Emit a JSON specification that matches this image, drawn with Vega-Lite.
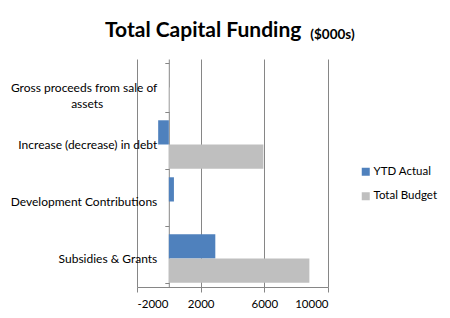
{
  "$schema": "https://vega.github.io/schema/vega-lite/v6.json",
  "width": 191,
  "height": 228,
  "autosize": {"type": "none"},
  "padding": {"left": 137, "top": 59, "right": 122, "bottom": 31},
  "background": "white",
  "title": {
    "text": "Total Capital Funding",
    "anchor": "start",
    "frame": "group",
    "dx": -32,
    "baseline": "alphabetic",
    "offset": -31,
    "font": "Lato",
    "fontSize": 21,
    "fontWeight": "bold",
    "color": "black"
  },
  "data": {
    "values": [
      {"category": "Gross proceeds from sale of assets", "series": "YTD Actual", "value": 0},
      {"category": "Gross proceeds from sale of assets", "series": "Total Budget", "value": 60},
      {"category": "Increase (decrease) in debt", "series": "YTD Actual", "value": -670},
      {"category": "Increase (decrease) in debt", "series": "Total Budget", "value": 5940},
      {"category": "Development Contributions", "series": "YTD Actual", "value": 320},
      {"category": "Development Contributions", "series": "Total Budget", "value": 0},
      {"category": "Subsidies & Grants", "series": "YTD Actual", "value": 2920},
      {"category": "Subsidies & Grants", "series": "Total Budget", "value": 8830}
    ]
  },
  "mark": {"type": "bar"},
  "encoding": {
    "y": {
      "field": "category",
      "type": "nominal",
      "sort": ["Gross proceeds from sale of assets", "Increase (decrease) in debt", "Development Contributions", "Subsidies & Grants"],
      "scale": {"paddingInner": 0.15, "paddingOuter": 0.075},
      "axis": {
        "title": "($000s)",
        "titleAngle": 0,
        "titleAlign": "left",
        "titleBaseline": "alphabetic",
        "titleX": 141,
        "titleY": -21,
        "titleFont": "Lato",
        "titleFontSize": 13.5,
        "titleFontWeight": "bold",
        "titleColor": "black",
        "offset": -31.8,
        "domainColor": "#868686",
        "tickColor": "#868686",
        "tickSize": 4,
        "tickBand": "extent",
        "labelPadding": 8,
        "labelFont": "Lato",
        "labelFontSize": 12,
        "labelColor": "black",
        "labelLineHeight": 16,
        "labelLimit": 200,
        "labelExpr": "datum.value == 'Gross proceeds from sale of assets' ? ['Gross proceeds from sale of', 'assets\u2800\u2800\u2800\u2800\u2800\u2800'] : datum.value",
        "grid": false
      }
    },
    "yOffset": {
      "field": "series",
      "type": "nominal",
      "scale": {"domain": ["YTD Actual", "Total Budget"], "paddingInner": 0, "paddingOuter": 0}
    },
    "x": {
      "field": "value",
      "type": "quantitative",
      "scale": {"domain": [-2000, 10000], "nice": false, "zero": false},
      "axis": {
        "title": null,
        "values": [-2000, 2000, 6000, 10000],
        "labelExpr": "'' + datum.value",
        "grid": true,
        "gridColor": "#868686",
        "domainColor": "#868686",
        "tickColor": "#868686",
        "tickSize": 5,
        "labelPadding": 6,
        "labelFont": "Lato",
        "labelFontSize": 11.5,
        "labelColor": "black"
      }
    },
    "color": {
      "field": "series",
      "type": "nominal",
      "scale": {"domain": ["YTD Actual", "Total Budget"], "range": ["#4F81BD", "#BFBFBF"]},
      "legend": {
        "title": null,
        "orient": "none",
        "legendX": 223,
        "legendY": 107,
        "symbolType": "square",
        "symbolSize": 64,
        "symbolStrokeWidth": 0,
        "labelFont": "Lato",
        "labelFontSize": 11.5,
        "labelColor": "black",
        "labelOffset": 2,
        "rowPadding": 11.5
      }
    }
  },
  "config": {"view": {"stroke": null}}
}
